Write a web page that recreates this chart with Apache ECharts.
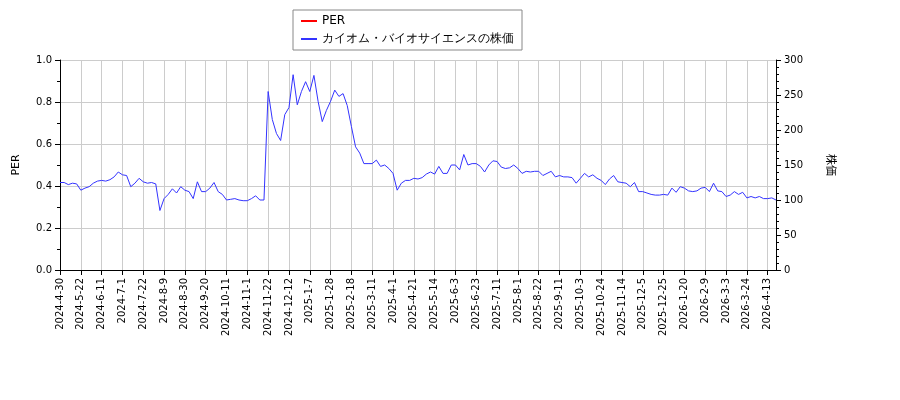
<!DOCTYPE html>
<html><head><meta charset="utf-8">
<script src="https://cdn.jsdelivr.net/npm/echarts@6/dist/echarts.min.js"></script>
<style>html,body{margin:0;padding:0;background:#fff}#c{width:900px;height:400px}</style>
</head><body><div id="c"></div>
<script>
const tickLabels = ["2024-4-30","2024-5-22","2024-6-11","2024-7-1","2024-7-22","2024-8-9","2024-8-30","2024-9-20","2024-10-11","2024-11-1","2024-11-22","2024-12-12","2025-1-7","2025-1-28","2025-2-18","2025-3-11","2025-4-1","2025-4-21","2025-5-14","2025-6-3","2025-6-23","2025-7-11","2025-8-1","2025-8-22","2025-9-11","2025-10-3","2025-10-24","2025-11-14","2025-12-5","2025-12-25","2026-1-20","2026-2-9","2026-3-3","2026-3-24","2026-4-13"];
const stepsPerTick = 5;
const priceValues = [
125,125,122,124,123, 114,117,119,124,127, 128,127,129,133,140, 136,135,119,124,131,
126,124,125,123,85, 102,108,116,110,119, 114,112,102,126,112, 112,117,125,112,108,
100,101,102,100,99, 99,102,106,100,100, 255,215,195,185,222, 232,279,236,255,269,
255,278,241,212,228, 241,257,248,252,235, 205,176,167,152,152, 152,157,148,150,145,
138,114,124,128,128, 131,130,132,137,140, 137,148,138,138,150, 150,143,165,150,152,
152,148,140,150,156, 155,147,145,146,150, 145,138,141,140,141, 141,135,138,141,133,
135,133,133,132,124, 131,138,133,136,131, 128,122,130,135,126, 125,124,119,125,112,
112,110,108,107,107, 108,107,117,111,119, 117,113,112,113,117, 118,112,124,113,112,
105,107,112,108,111, 103,105,103,105,102, 102,103,100
];
const perValues = [];
const categories = priceValues.map((v,i)=> i%stepsPerTick===0 && tickLabels[i/stepsPerTick] ? tickLabels[i/stepsPerTick] : ('_'+i));
const font = 'DejaVu Sans';
const chart = echarts.init(document.getElementById('c'));
chart.setOption({
  animation:false,
  textStyle:{fontFamily:font},
  legend:{top:10,left:293,orient:'vertical',itemWidth:16,itemHeight:2,itemGap:6,
    borderColor:'#888',borderWidth:1,padding:[5,8,5,8],backgroundColor:'#fff',
    textStyle:{fontFamily:font,fontSize:12,color:'#000'},
    data:[{name:'PER',icon:'rect'},{name:'カイオム・バイオサイエンスの株価',icon:'rect'}]},
  grid:{left:60,right:124,top:60,bottom:130},
  xAxis:{type:'category',data:categories,boundaryGap:false,
    axisLine:{lineStyle:{color:'#000'}},
    axisTick:{interval:(i)=>i%stepsPerTick===0,lineStyle:{color:'#000'}},
    axisLabel:{interval:(i)=>i%stepsPerTick===0,rotate:90,fontSize:10,color:'#000',fontFamily:font,
      formatter:v=>v.startsWith('_')?'':v},
    splitLine:{show:true,interval:(i)=>i%stepsPerTick===0,lineStyle:{color:'#ccc'}}},
  yAxis:[
    {type:'value',min:0,max:1,interval:0.2,name:'PER',nameLocation:'middle',nameGap:38,nameRotate:90,
     nameTextStyle:{fontSize:11,color:'#000'},
     axisLine:{show:true,lineStyle:{color:'#000'}},axisTick:{show:true},
     minorTick:{show:true,splitNumber:2,lineStyle:{color:'#000'}},
     axisLabel:{formatter:v=>v.toFixed(1),fontSize:10,color:'#000'},
     splitLine:{lineStyle:{color:'#ccc'}}},
    {type:'value',min:0,max:300,interval:50,name:'株価',nameLocation:'middle',nameGap:50,nameRotate:-90,
     nameTextStyle:{fontSize:11,color:'#000',fontFamily:'Noto Sans CJK JP'},
     axisLine:{show:true,lineStyle:{color:'#000'}},axisTick:{show:true},
     minorTick:{show:true,splitNumber:5,lineStyle:{color:'#000'}},
     axisLabel:{fontSize:10,color:'#000'},splitLine:{show:false}}
  ],
  series:[
    {name:'PER',type:'line',yAxisIndex:0,data:perValues,color:'#ff0000',symbol:'none'},
    {name:'カイオム・バイオサイエンスの株価',type:'line',yAxisIndex:1,data:priceValues,color:'#3333ff',
     symbol:'none',lineStyle:{width:1}}
  ]
});
</script></body></html>
